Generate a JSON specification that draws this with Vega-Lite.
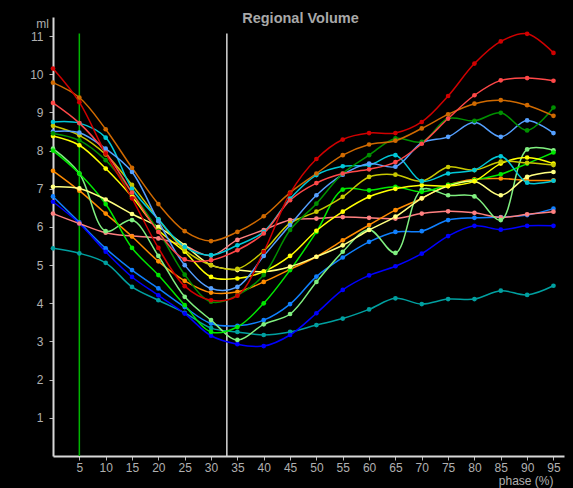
{
  "$schema": "https://vega.github.io/schema/vega-lite/v6.json",
  "autosize": {"type": "none"},
  "width": 511,
  "height": 439,
  "padding": {"left": 53, "top": 17, "right": 9, "bottom": 32},
  "background": "#000000",
  "title": {"text": "Regional Volume", "font": "Liberation Sans", "fontSize": 14.5, "fontWeight": "bold", "color": "#a8a8a8", "anchor": "middle", "dx": -8, "offset": 0, "dy": 20, "baseline": "alphabetic"},
  "config": {
    "view": {"stroke": null},
    "axis": {"grid": false, "labelFont": "Liberation Sans", "labelFontSize": 12, "labelColor": "#b0b0b0", "titleFont": "Liberation Sans", "titleFontSize": 12, "titleFontWeight": "normal", "titleColor": "#b0b0b0", "domainColor": "#d8d8d8", "domainWidth": 2, "tickColor": "#b8b8b8", "tickSize": 4}
  },
  "datasets": {
    "vol": [
      {"x":0,"r1":10.15,"r2":9.25,"ob":9.78,"dg":8.45,"lb":8.5,"cy":8.75,"ol":8.65,"ya":8.38,"ly":7.05,"bg":8.0,"lg":8.05,"or":7.47,"pk":6.35,"bl":6.66,"mb":6.8,"tl":5.44},
      {"x":5,"r1":9.27,"r2":8.72,"ob":9.39,"dg":8.27,"lb":8.47,"cy":8.72,"ol":8.4,"ya":8.14,"ly":7.01,"bg":7.4,"lg":7.4,"or":6.95,"pk":6.09,"bl":6.09,"mb":6.12,"tl":5.31},
      {"x":10,"r1":7.92,"r2":7.95,"ob":8.56,"dg":7.75,"lb":8.05,"cy":8.34,"ol":7.9,"ya":7.53,"ly":6.72,"bg":6.6,"lg":5.89,"or":6.35,"pk":5.85,"bl":5.35,"mb":5.44,"tl":5.06},
      {"x":15,"r1":6.75,"r2":6.9,"ob":7.55,"dg":6.9,"lb":7.44,"cy":7.0,"ol":7.1,"ya":6.79,"ly":6.34,"bg":5.45,"lg":6.18,"or":5.75,"pk":5.76,"bl":4.69,"mb":4.87,"tl":4.43},
      {"x":20,"r1":5.45,"r2":5.87,"ob":6.6,"dg":5.9,"lb":6.15,"cy":6.2,"ol":6.2,"ya":5.92,"ly":6.0,"bg":4.74,"lg":5.24,"or":5.1,"pk":5.7,"bl":4.21,"mb":4.39,"tl":4.08},
      {"x":25,"r1":4.45,"r2":5.15,"ob":5.89,"dg":4.75,"lb":5.0,"cy":5.48,"ol":5.4,"ya":5.35,"ly":5.52,"bg":3.95,"lg":4.17,"or":4.59,"pk":5.5,"bl":3.73,"mb":3.9,"tl":3.75},
      {"x":30,"r1":4.08,"r2":5.13,"ob":5.63,"dg":4.04,"lb":4.39,"cy":5.26,"ol":5.0,"ya":4.69,"ly":5.0,"bg":3.25,"lg":3.56,"or":4.28,"pk":5.25,"bl":3.15,"mb":3.47,"tl":3.35},
      {"x":35,"r1":4.2,"r2":5.39,"ob":5.87,"dg":4.21,"lb":4.43,"cy":5.52,"ol":4.9,"ya":4.65,"ly":4.87,"bg":3.38,"lg":3.04,"or":4.3,"pk":5.66,"bl":2.93,"mb":3.41,"tl":3.25},
      {"x":40,"r1":5.35,"r2":5.83,"ob":6.28,"dg":4.74,"lb":5.24,"cy":5.87,"ol":5.37,"ya":4.83,"ly":4.83,"bg":4.0,"lg":3.45,"or":4.56,"pk":5.92,"bl":2.88,"mb":3.56,"tl":3.17},
      {"x":45,"r1":6.88,"r2":6.7,"ob":6.9,"dg":5.92,"lb":6.05,"cy":6.74,"ol":6.1,"ya":5.24,"ly":4.96,"bg":4.87,"lg":3.72,"or":4.89,"pk":6.18,"bl":3.17,"mb":3.98,"tl":3.25},
      {"x":50,"r1":7.78,"r2":7.15,"ob":7.4,"dg":6.61,"lb":6.83,"cy":7.36,"ol":6.4,"ya":5.9,"ly":5.22,"bg":5.87,"lg":4.56,"or":5.22,"pk":6.22,"bl":3.74,"mb":4.7,"tl":3.43},
      {"x":55,"r1":8.29,"r2":7.4,"ob":7.88,"dg":7.4,"lb":7.37,"cy":7.59,"ol":6.79,"ya":6.4,"ly":5.52,"bg":6.98,"lg":5.35,"or":5.65,"pk":6.26,"bl":4.35,"mb":5.2,"tl":3.6},
      {"x":60,"r1":8.46,"r2":7.51,"ob":8.16,"dg":7.88,"lb":7.66,"cy":7.62,"ol":7.31,"ya":6.79,"ly":5.92,"bg":6.96,"lg":5.93,"or":6.05,"pk":6.24,"bl":4.73,"mb":5.61,"tl":3.84},
      {"x":65,"r1":8.46,"r2":7.7,"ob":8.26,"dg":8.32,"lb":7.58,"cy":7.88,"ol":7.37,"ya":7.0,"ly":6.27,"bg":7.05,"lg":5.32,"or":6.44,"pk":6.22,"bl":4.97,"mb":5.87,"tl":4.13},
      {"x":70,"r1":8.75,"r2":8.18,"ob":8.58,"dg":8.23,"lb":8.2,"cy":7.2,"ol":7.2,"ya":7.09,"ly":6.75,"bg":6.92,"lg":6.98,"or":6.75,"pk":6.35,"bl":5.3,"mb":5.89,"tl":3.98},
      {"x":75,"r1":9.43,"r2":8.84,"ob":8.95,"dg":8.84,"lb":8.36,"cy":7.4,"ol":7.57,"ya":7.07,"ly":7.07,"bg":7.1,"lg":6.83,"or":7.1,"pk":6.41,"bl":5.76,"mb":6.18,"tl":4.11},
      {"x":80,"r1":10.28,"r2":9.45,"ob":9.23,"dg":8.78,"lb":8.74,"cy":7.49,"ol":7.49,"ya":7.2,"ly":7.2,"bg":7.23,"lg":6.8,"or":7.25,"pk":6.37,"bl":6.03,"mb":6.24,"tl":4.11},
      {"x":85,"r1":10.86,"r2":9.84,"ob":9.32,"dg":8.99,"lb":8.36,"cy":7.85,"ol":7.71,"ya":7.66,"ly":6.83,"bg":7.38,"lg":6.18,"or":7.27,"pk":6.25,"bl":5.93,"mb":6.26,"tl":4.33},
      {"x":90,"r1":11.06,"r2":9.9,"ob":9.19,"dg":8.53,"lb":8.79,"cy":7.16,"ol":7.68,"ya":7.82,"ly":7.31,"bg":7.66,"lg":8.03,"or":7.22,"pk":6.33,"bl":6.03,"mb":6.31,"tl":4.22},
      {"x":95,"r1":10.56,"r2":9.83,"ob":8.91,"dg":9.13,"lb":8.46,"cy":7.21,"ol":7.62,"ya":7.66,"ly":7.44,"bg":7.95,"lg":8.01,"or":7.22,"pk":6.4,"bl":6.03,"mb":6.48,"tl":4.46}
    ]
  },
  "encoding": {
    "x": {"type": "quantitative", "scale": {"domain": [0, 97], "nice": false, "zero": false},
      "axis": {"values": [5,10,15,20,25,30,35,40,45,50,55,60,65,70,75,80,85,90,95], "labelPadding": 2, "title": "phase (%)", "titleAnchor": "end", "titleAlign": "right", "titleX": 500, "titleY": 24, "titleBaseline": "middle"}},
    "y": {"type": "quantitative", "scale": {"domain": [0, 11.5], "nice": false},
      "axis": {"values": [1,2,3,4,5,6,7,8,9,10,11], "labelPadding": 6, "title": "ml", "titleAngle": 0, "titleAlign": "center", "titleX": -11, "titleY": 6, "titleBaseline": "middle"}}
  },
  "layer": [
    {"data": {"values": [{"x": 5, "y": 0, "y2": 11.07}]}, "mark": {"type": "rule", "color": "#00b400", "strokeWidth": 1.5},
      "encoding": {"x": {"field": "x"}, "y": {"field": "y"}, "y2": {"field": "y2"}}},
    {"data": {"values": [{"x": 33, "y": 0, "y2": 11.07}]}, "mark": {"type": "rule", "color": "#d8d8d8", "strokeWidth": 1.5},
      "encoding": {"x": {"field": "x"}, "y": {"field": "y"}, "y2": {"field": "y2"}}},
    {
      "data": {"name": "vol"},
      "transform": [{"fold": ["tl","mb","bl","pk","or","lg","bg","ly","ya","ol","cy","lb","dg","ob","r2","r1"], "as": ["k", "v"]}],
      "layer": [
        {"mark": {"type": "line", "interpolate": "catmull-rom", "strokeWidth": 1.5},
          "encoding": {"x": {"field": "x"}, "y": {"field": "v"}, "detail": {"field": "k"},
            "color": {"field": "k", "type": "nominal", "legend": null,
              "scale": {"domain": ["r1","r2","ob","dg","lb","cy","ol","ya","ly","bg","lg","or","pk","bl","mb","tl"],
                "range": ["#d00000","#ff4848","#d06a00","#009000","#55a0ff","#00c8d8","#c8c800","#ffff00","#ffff80","#00e800","#80f080","#ff8c00","#ff8080","#0000ff","#1080ff","#00a0a0"]}}}},
        {"mark": {"type": "circle", "size": 22, "opacity": 1},
          "encoding": {"x": {"field": "x"}, "y": {"field": "v"},
            "color": {"field": "k", "type": "nominal", "legend": null}}}
      ]
    }
  ]
}
